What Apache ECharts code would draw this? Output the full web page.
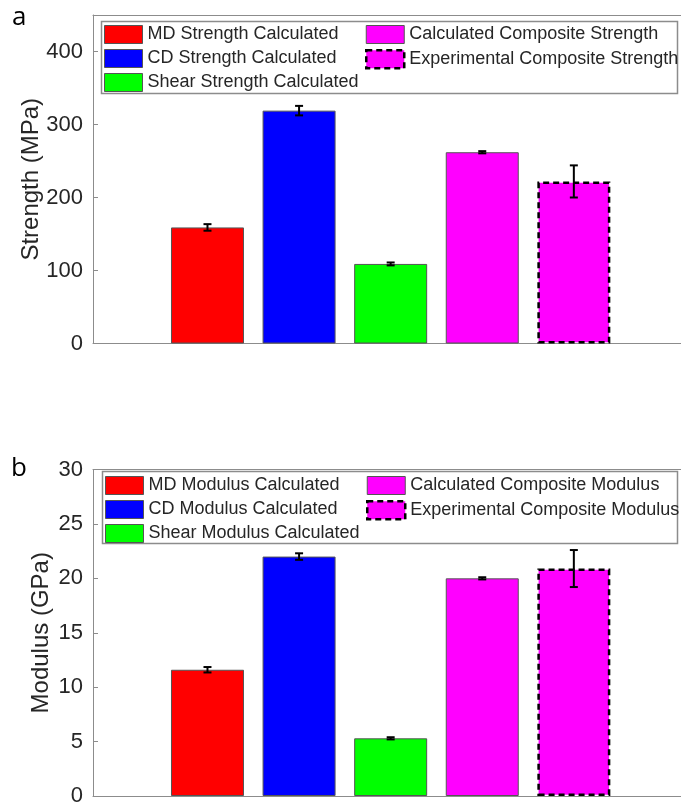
<!DOCTYPE html>
<html>
<head>
<meta charset="utf-8">
<script src="https://cdn.jsdelivr.net/npm/echarts@6/dist/echarts.min.js"></script>
<style>
  html, body { margin: 0; padding: 0; background: #fff; }
  #chart { width: 681px; height: 810px; }
</style>
</head>
<body>
<div id="chart"></div>
<script>
// Bar slots along the x axis (one per measured quantity)
const barPositions = [1, 2, 3, 4, 5];
const barColors = ['#ff0000', '#0000ff', '#00ff00', '#ff00ff', '#ff00ff'];

// Panel a: strength
const strengthNames = [
  'MD Strength Calculated',
  'CD Strength Calculated',
  'Shear Strength Calculated',
  'Calculated Composite Strength',
  'Experimental Composite Strength'
];
const strengthValues = [159, 319, 109, 262, 222];
const strengthErrors = [4.5, 6.5, 2, 1.5, 22];
const strengthTicks = [0, 100, 200, 300, 400];

// Panel b: modulus
const modulusNames = [
  'MD Modulus Calculated',
  'CD Modulus Calculated',
  'Shear Modulus Calculated',
  'Calculated Composite Modulus',
  'Experimental Composite Modulus'
];
const modulusValues = [11.6, 22.0, 5.3, 20.0, 20.9];
const modulusErrors = [0.25, 0.3, 0.1, 0.1, 1.7];
const modulusTicks = [0, 5, 10, 15, 20, 25, 30];

const FONT = 'Liberation Sans, Arial, sans-serif';
const TEXT = '#262626';
const AXIS = '#8c8c8c';
const X_MIN = -0.25;
const X_MAX = 6.17;

function itemStyleFor(i) {
  if (i === 4) {
    return { color: barColors[i], borderColor: '#000', borderWidth: 2.5, borderType: [6, 4] };
  }
  return { color: barColors[i], borderColor: '#555', borderWidth: 1 };
}

function barSeries(names, values, axisIndex) {
  return names.map((name, i) => ({
    type: 'bar',
    name: name,
    xAxisIndex: axisIndex * 2,
    yAxisIndex: axisIndex,
    barWidth: 73,
    barGap: '-100%',
    data: [[barPositions[i], values[i]]],
    itemStyle: itemStyleFor(i),
    emphasis: { disabled: true },
    animation: false
  }));
}

function errorSeries(values, errors, axisIndex) {
  return {
    type: 'custom',
    xAxisIndex: axisIndex * 2,
    yAxisIndex: axisIndex,
    z: 5,
    silent: true,
    animation: false,
    data: values.map((v, i) => [barPositions[i], v - errors[i], v + errors[i]]),
    encode: { x: 0, y: [1, 2] },
    renderItem: function (params, api) {
      const lo = api.coord([api.value(0), api.value(1)]);
      const hi = api.coord([api.value(0), api.value(2)]);
      const w = 4;
      const style = { stroke: '#000', lineWidth: 2 };
      return {
        type: 'group',
        children: [
          { type: 'line', shape: { x1: hi[0], y1: hi[1], x2: lo[0], y2: lo[1] }, style: style },
          { type: 'line', shape: { x1: hi[0] - w, y1: hi[1], x2: hi[0] + w, y2: hi[1] }, style: style },
          { type: 'line', shape: { x1: lo[0] - w, y1: lo[1], x2: lo[0] + w, y2: lo[1] }, style: style }
        ]
      };
    }
  };
}

function legendBlock(names, from, to, left, top) {
  return {
    orient: 'vertical',
    left: left,
    top: top,
    padding: 0,
    itemWidth: 38,
    itemHeight: 18,
    itemGap: 5,
    icon: 'rect',
    selectedMode: false,
    z: 6,
    textStyle: { fontSize: 18, color: TEXT, fontFamily: FONT },
    data: names.slice(from, to).map((n, k) => ({
      name: n,
      itemStyle: itemStyleFor(from + k)
    }))
  };
}

// Box edges: bottom and top lines of each plot area
function xAxesFor(gridIndex) {
  const base = {
    gridIndex: gridIndex,
    type: 'value',
    min: X_MIN,
    max: X_MAX,
    axisLine: { show: true, onZero: false, lineStyle: { color: AXIS, width: 1 } },
    axisTick: { show: false },
    axisLabel: { show: false },
    splitLine: { show: false }
  };
  return [
    Object.assign({}, base, { position: 'bottom' }),
    Object.assign({}, base, { position: 'top' })
  ];
}

function yAxisFor(gridIndex, max, ticks, title, gap) {
  return {
    gridIndex: gridIndex,
    type: 'value',
    min: 0,
    max: max,
    name: title,
    nameLocation: 'middle',
    nameGap: gap,
    nameMoveOverlap: false,
    nameTextStyle: { fontSize: 24, color: TEXT, fontFamily: FONT },
    axisLine: { show: true, onZero: false, lineStyle: { color: AXIS, width: 1 } },
    axisTick: { show: true, inside: true, length: 5, lineStyle: { color: AXIS }, customValues: ticks },
    axisLabel: { fontSize: 22, color: TEXT, fontFamily: FONT, margin: 10, customValues: ticks },
    splitLine: { show: false }
  };
}

const chart = echarts.init(document.getElementById('chart'), null, { renderer: 'canvas' });

chart.setOption({
  animation: false,
  backgroundColor: '#fff',
  grid: [
    { left: 93, top: 15, right: 0, height: 328.5, show: false },
    { left: 93, top: 469.5, right: 0, height: 326.5, show: false }
  ],
  xAxis: [].concat(xAxesFor(0), xAxesFor(1)),
  yAxis: [
    yAxisFor(0, 450, strengthTicks, 'Strength (MPa)', 50),
    yAxisFor(1, 30, modulusTicks, 'Modulus (GPa)', 40)
  ],
  legend: [
    legendBlock(strengthNames, 0, 3, 104, 25),
    legendBlock(strengthNames, 3, 5, 365, 25),
    legendBlock(modulusNames, 0, 3, 105, 476),
    legendBlock(modulusNames, 3, 5, 366, 476)
  ],
  graphic: [
    { type: 'rect', z: 4, shape: { x: 101.5, y: 21.5, width: 576, height: 72 }, style: { fill: '#fff', stroke: AXIS, lineWidth: 1.5 } },
    { type: 'rect', z: 4, shape: { x: 102.5, y: 471.5, width: 575, height: 72 }, style: { fill: '#fff', stroke: AXIS, lineWidth: 1.5 } },
    { type: 'text', z: 6, style: { x: 12, y: 18, text: 'a', font: '26px "Open Sans", sans-serif', fill: '#000', verticalAlign: 'middle' } },
    { type: 'text', z: 6, style: { x: 11, y: 469, text: 'b', font: '26px "Open Sans", sans-serif', fill: '#000', verticalAlign: 'middle' } }
  ],
  series: [].concat(
    barSeries(strengthNames, strengthValues, 0),
    [errorSeries(strengthValues, strengthErrors, 0)],
    barSeries(modulusNames, modulusValues, 1),
    [errorSeries(modulusValues, modulusErrors, 1)]
  )
});
</script>
</body>
</html>
